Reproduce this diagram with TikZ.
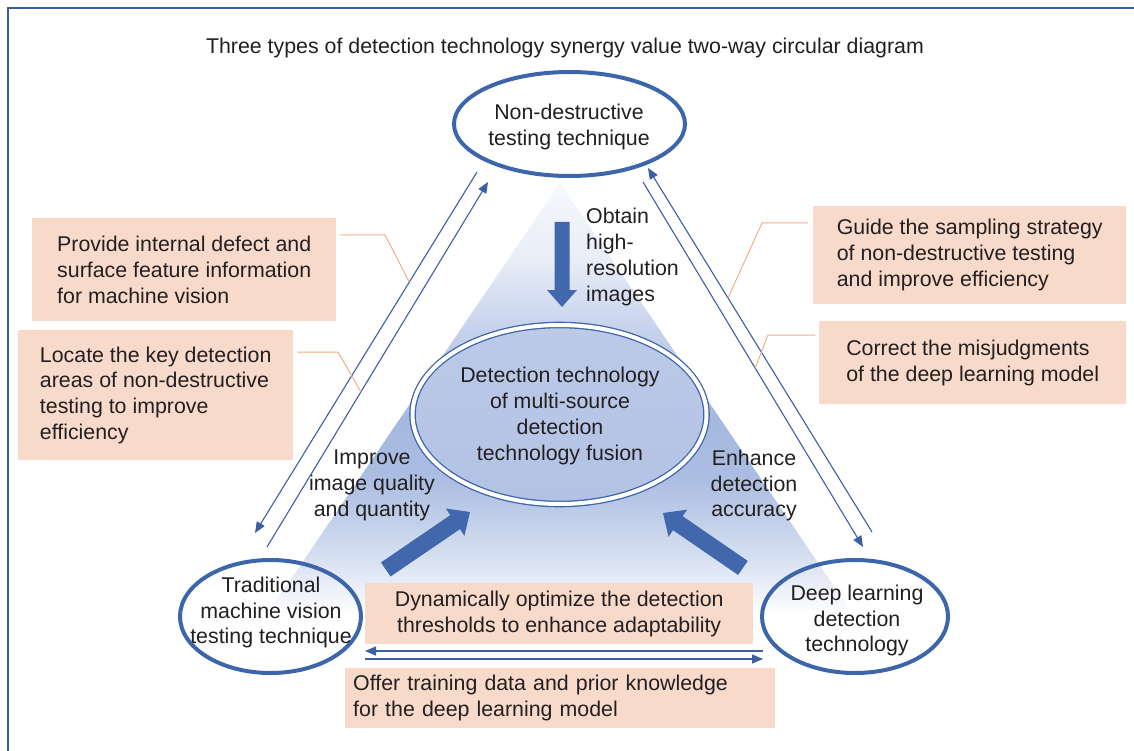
\documentclass[tikz,border=0pt]{standalone}
\usepackage{fontspec}
\setmainfont{Liberation Sans}
\usetikzlibrary{shapes.geometric,arrows.meta,calc}

\definecolor{frameblue}{HTML}{3A5CA5}
\definecolor{ringblue}{HTML}{3D65A9}
\definecolor{lineblue}{HTML}{3B5FA3}
\definecolor{fatblue}{HTML}{4167AC}
\definecolor{peach}{HTML}{F8DACB}
\definecolor{leader}{HTML}{F2AE85}
\definecolor{ink}{HTML}{231F20}
\definecolor{triA}{HTML}{F6F8FC}
\definecolor{triB}{HTML}{E8EDF7}
\definecolor{triC}{HTML}{C6D2EC}
\definecolor{triD}{HTML}{A5B8DF}
\definecolor{triE}{HTML}{ABBDE1}
\definecolor{triF}{HTML}{D8E1F2}
\definecolor{fuseTop}{HTML}{BCCAE8}
\definecolor{fuseMid}{HTML}{8DA4D2}
\definecolor{fuseBot}{HTML}{B2C2E4}

% vertical fade of the background triangle (25bp = base, 75bp = apex)
\pgfdeclareverticalshading{tri}{100bp}{%
  color(0bp)=(white); color(25bp)=(white); color(29.7bp)=(white);
  color(35.5bp)=(triF); color(43.9bp)=(triE); color(50.2bp)=(triD);
  color(59.6bp)=(triC); color(67bp)=(triB); color(75bp)=(triA);
  color(100bp)=(triA)}

\begin{document}
\begin{tikzpicture}[x=1pt,y=-1pt,
  font=\fontsize{21.35}{25.8}\selectfont, text=ink,
  oval/.style={ellipse, draw=ringblue, line width=4pt, inner sep=0pt, align=center},
  note/.style={fill=peach, inner sep=0pt, anchor=north west, align=left},
  link/.style={draw=lineblue, line width=1.1pt, -{Triangle[length=11pt,width=9pt]}},
  leadline/.style={draw=leader, line width=1pt},
  fat/.style={fill=fatblue},
  lbl/.style={inner sep=0pt, align=center}]

\useasboundingbox (0,0) rectangle (1134,751);

% frame
\draw[frameblue, line width=1.6pt] (8,751) -- (8,8) -- (1134,8);

% title
\node[anchor=base, inner sep=0pt] (title) at (565,54)
  {Three types of detection technology synergy value two-way circular diagram};

% background triangle
\shade[shading=tri] (560,183) -- (236,660) -- (884,660) -- cycle;

% central fusion ellipse
\node[ellipse, inner sep=0pt, minimum width=294, minimum height=179,
      draw=ringblue, double=white, double distance=4pt, line width=1.3pt,
      top color=fuseTop, middle color=fuseMid, bottom color=fuseBot] (fusion) at (559.5,414.5) {};
\node[lbl] (fusiontext) at (560,416)
  {Detection technology\\of multi-source\\detection\\technology fusion};

% three techniques
\node[oval, minimum width=231, minimum height=104] (ndt) at (569.5,124) {};
\node[lbl] (ndttext) at (569,127) {Non-destructive\\testing technique};
\node[oval, minimum width=181, minimum height=113] (trad) at (270.5,616.5) {};
\node[lbl] (tradtext) at (271,612.5) {Traditional\\machine vision\\testing technique};
\node[oval, minimum width=186, minimum height=113] (deep) at (855,616.5) {};
\node[lbl] (deeptext) at (857,620.5) {Deep learning\\detection\\technology};

% fat arrows towards the fusion
\fill[fat, shift={(562,307)}, rotate=-90]
  (0,0) -- (-17,15) -- (-17,7.5) -- (-85,7.5) -- (-85,-7.5) -- (-17,-7.5) -- (-17,-15) -- cycle;
\fill[fat, shift={(470,512)}, rotate=34.3]
  (0,0) -- (-18,16.5) -- (-18,8.5) -- (-102,8.5) -- (-102,-8.5) -- (-18,-8.5) -- (-18,-16.5) -- cycle;
\fill[fat, shift={(663,513)}, rotate=145.5]
  (0,0) -- (-18,16.5) -- (-18,8.5) -- (-97,8.5) -- (-97,-8.5) -- (-18,-8.5) -- (-18,-16.5) -- cycle;

% arrow labels
\node[inner sep=0pt, anchor=west, align=left] (obtain) at (586,257)
  {Obtain\\high-\\resolution\\images};
\node[lbl] (improve) at (372,485.5) {Improve\\image quality\\and quantity};
\node[lbl] (enhance) at (754,485.5) {Enhance\\detection\\accuracy};

% end points of the two-way links
\coordinate (ndtL1) at (477,172);  \coordinate (tradL1) at (255,533);
\coordinate (tradL2) at (267,547); \coordinate (ndtL2) at (488,182);
\coordinate (deepR1) at (872,532); \coordinate (ndtR1) at (648,168);
\coordinate (ndtR2) at (643,182);  \coordinate (deepR2) at (863,547);
\coordinate (deepB1) at (763,651); \coordinate (tradB1) at (365,651);
\coordinate (tradB2) at (365,659); \coordinate (deepB2) at (763,659);

\draw[link] (ndtL1) -- (tradL1);
\draw[link] (tradL2) -- (ndtL2);
\draw[link] (deepR1) -- (ndtR1);
\draw[link] (ndtR2) -- (deepR2);
\draw[link] (deepB1) -- (tradB1);
\draw[link] (tradB2) -- (deepB2);

% annotation boxes
\node[note, minimum width=304, minimum height=103] (b1) at (32,218)
  {Provide internal defect and\\surface feature information\\for machine vision};
\node[note, minimum width=275, minimum height=130] (b2) at (18,330)
  {Locate the key detection\\areas of non-destructive\\testing to improve\\efficiency};
\node[note, minimum width=313, minimum height=98] (b3) at (813,206)
  {Guide the sampling strategy\\of non-destructive testing\\and improve efficiency};
\node[note, minimum width=307, minimum height=83] (b4) at (819,321)
  {Correct the misjudgments\\of the deep learning model};
\node[note, align=center, minimum width=388, minimum height=61] (b5) at (365,583)
  {Dynamically optimize the detection\\thresholds to enhance adaptability};
\node[note, text width=414, inner xsep=8pt, minimum height=60] (b6) at (345,668)
  {Offer training data and prior knowledge\\for the deep learning model};

% leader lines from boxes to links
\path (ndtL1) -- (tradL1) coordinate[pos=0.305] (k1);
\path (tradL2) -- (ndtL2) coordinate[pos=0.425] (k2);
\path (deepR1) -- (ndtR1) coordinate[pos=0.643] (k3);
\path (ndtR2) -- (deepR2) coordinate[pos=0.51] (k4);
\coordinate (k1a) at (385,235);
\coordinate (k2a) at (338,352);
\coordinate (k3a) at (762,223);
\coordinate (k4a) at (768,335);
\draw[leadline] ($(b1.north east)+(4,17)$) -- (k1a) -- (k1);
\draw[leadline] ($(b2.north east)+(4,22)$) -- (k2a) -- (k2);
\draw[leadline] ($(b3.north west)+(-5,17)$) -- (k3a) -- (k3);
\draw[leadline] ($(b4.north west)+(-4,14)$) -- (k4a) -- (k4);

\end{tikzpicture}
\end{document}
